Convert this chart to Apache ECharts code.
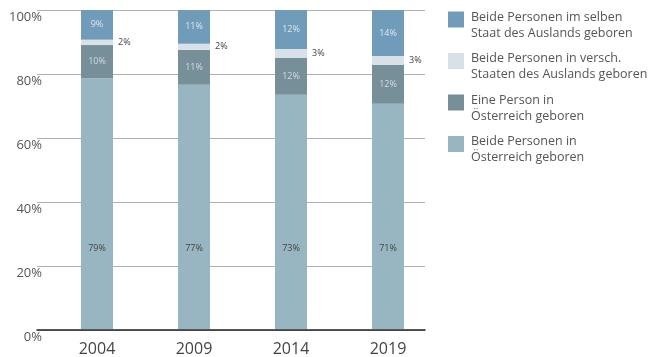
<!DOCTYPE html>
<html><head><meta charset="utf-8">
<script src="https://cdn.jsdelivr.net/npm/echarts@6/dist/echarts.min.js"></script>
<style>html,body{margin:0;padding:0;background:#fff}#c{width:654px;height:357px}</style>
</head><body><div id="c"></div>
<script>
var years = ['2004', '2009', '2014', '2019'];
var seriesNames = ['Beide Personen in\nÖsterreich geboren', 'Eine Person in\nÖsterreich geboren', 'Beide Personen in versch.\nStaaten des Auslands geboren', 'Beide Personen im selben\nStaat des Auslands geboren'];
var beideAT = [78.6, 76.6, 73.4, 70.6];
var einePerson = [10.4, 10.9, 11.6, 12.2];
var verschStaaten = [1.7, 1.9, 2.8, 2.8];
var selberStaat = [9.3, 10.6, 12.2, 14.4];
var yTicks = [0, 20, 40, 60, 80, 100];
var colors = ['#98b6c1', '#768f98', '#d9e1e8', '#709cba'];
var FONT = 'Open Sans';

var chart = echarts.init(document.getElementById('c'));
function pct(p){ return Math.round(p.value) + '%'; }
var values = [beideAT, einePerson, verschStaaten, selberStaat];
var labelCfgs = [
  {show:true, position:'insideBottom', distance:76, color:'#444', fontSize:9, fontFamily:FONT, formatter:pct},
  {show:true, position:'inside', color:'#d5dde2', fontSize:9, fontFamily:FONT, formatter:pct},
  {show:true, position:'right', distance:5, color:'#444', fontSize:9, fontFamily:FONT, formatter:pct},
  {show:true, position:'inside', color:'#dce6ee', fontSize:9, fontFamily:FONT, formatter:pct}
];
var series = values.map(function(v, i){
  return {name: seriesNames[i], type:'bar', stack:'t', xAxisIndex:1, yAxisIndex:1, barWidth:32,
    data: v, itemStyle:{color:colors[i]}, label: labelCfgs[i], emphasis:{disabled:true}};
});
chart.setOption({
  animation:false,
  textStyle:{fontFamily:FONT},
  grid:[{left:37, width:388, top:10, height:320}, {left:48.5, width:388, top:10, height:320}],
  xAxis:[
    {gridIndex:0, type:'category', data:years, axisLine:{lineStyle:{color:'#222', width:1.5}}, axisTick:{show:false}, axisLabel:{show:false}},
    {gridIndex:1, type:'category', data:years, axisLine:{show:false}, axisTick:{show:false},
      axisLabel:{color:'#444', fontSize:16, margin:12, fontFamily:FONT}}
  ],
  yAxis:[
    {gridIndex:0, type:'value', min:yTicks[0], max:yTicks[yTicks.length-1], interval:20,
      axisLine:{show:false}, axisTick:{show:false},
      splitLine:{lineStyle:{color:'#b0b0b0', width:1}},
      axisLabel:{color:'#555', fontSize:13, margin:-5, verticalAlign:'top', padding:[1,0,0,0], formatter:'{value}%', fontFamily:FONT}},
    {gridIndex:1, type:'value', min:0, max:100, show:false, splitLine:{show:false}}
  ],
  legend:{orient:'vertical', left:448, top:-2, padding:0, itemGap:0, itemWidth:16, itemHeight:16,
    icon:'rect', selectedMode:false,
    data:[seriesNames[3], seriesNames[2], seriesNames[1], seriesNames[0]],
    formatter:function(name){
      var parts = name.split('\n');
      return '{g| }\n{t|' + parts[0] + '}\n{t|' + parts[1] + '}';
    },
    textStyle:{color:'#555', fontSize:12.5, fontFamily:FONT, padding:[0,0,0,2],
      rich:{g:{fontSize:6, lineHeight:11, height:11}, t:{color:'#555', fontSize:12.5, lineHeight:16, fontFamily:FONT}}},
    itemStyle:{borderWidth:0}},
  series: series
});
</script></body></html>
